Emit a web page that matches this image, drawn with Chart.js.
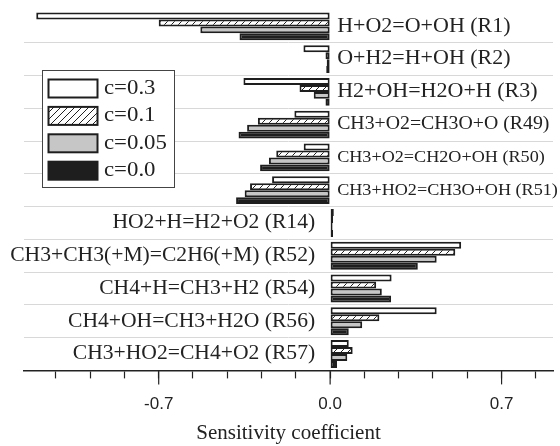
<!DOCTYPE html>
<html>
<head>
<meta charset="utf-8">
<script src="https://cdn.jsdelivr.net/npm/chart.js@4.4.1/dist/chart.umd.min.js"></script>
<style>
  html, body { margin: 0; padding: 0; background: #fff; }
  #wrap { width: 560px; height: 446px; }
</style>
</head>
<body>
<div id="wrap"><canvas id="chart1" width="560" height="446"></canvas></div>
<script>
// reactions, top to bottom
var reactions = [
    'H+O2=O+OH (R1)',
    'O+H2=H+OH (R2)',
    'H2+OH=H2O+H (R3)',
    'CH3+O2=CH3O+O (R49)',
    'CH3+O2=CH2O+OH (R50)',
    'CH3+HO2=CH3O+OH (R51)',
    'HO2+H=H2+O2 (R14)',
    'CH3+CH3(+M)=C2H6(+M) (R52)',
    'CH4+H=CH3+H2 (R54)',
    'CH4+OH=CH3+H2O (R56)',
    'CH3+HO2=CH4+O2 (R57)'
];

var seriesNames = ['c=0.3', 'c=0.1', 'c=0.05', 'c=0.0'];

var sensC03  = [-1.20, -0.109, -0.354, -0.146, -0.108, -0.237, 0.015, 0.535, 0.251, 0.435, 0.076];
var sensC01  = [-0.70, -0.019, -0.125, -0.295, -0.220, -0.327, 0.012, 0.511, 0.188, 0.201, 0.092];
var sensC005 = [-0.53, -0.014, -0.067, -0.339, -0.250, -0.349, 0.010, 0.435, 0.211, 0.131, 0.070];
var sensC00  = [-0.37, -0.016, -0.019, -0.374, -0.286, -0.384, 0.012, 0.358, 0.249, 0.076, 0.028];

var xTicks = [-1.12, -0.98, -0.84, -0.7, -0.56, -0.42, -0.28, -0.14, 0, 0.14, 0.28, 0.42, 0.56, 0.7, 0.84];
var xMajor = [-0.7, 0, 0.7];
var xTickLabels = ['-0.7', '0.0', '0.7'];

// look only
var labelSize = [20, 20, 20, 18, 16.5, 16.5, 20, 20, 20, 20, 20];
var serif = '"Liberation Serif", "Times New Roman", serif';
var stretch = 1.1;

function hatch() {
    var c = document.createElement('canvas');
    c.width = 7; c.height = 7;
    var g = c.getContext('2d');
    g.fillStyle = '#fff';
    g.fillRect(0, 0, 7, 7);
    g.strokeStyle = '#222';
    g.lineWidth = 1;
    g.beginPath();
    g.moveTo(-1, 8); g.lineTo(8, -1);
    g.moveTo(-1, 1); g.lineTo(1, -1);
    g.moveTo(6, 8); g.lineTo(8, 6);
    g.stroke();
    return g.createPattern(c, 'repeat');
}

var fills = ['#ffffff', hatch(), '#c6c6c6', '#1e1e1e'];
var allSeries = [sensC03, sensC01, sensC005, sensC00];

function majorIndex(v) {
    for (var i = 0; i < xMajor.length; i++) {
        if (Math.abs(v - xMajor[i]) < 0.001) return i;
    }
    return -1;
}

// labels next to the bars, long major ticks, legend box
var extras = {
    id: 'extras',
    afterDatasetsDraw: function(chart) {
        var ctx = chart.ctx;
        var xs = chart.scales.x, ys = chart.scales.y;
        var x0 = xs.getPixelForValue(0);
        ctx.save();
        ctx.fillStyle = '#222';
        ctx.textBaseline = 'middle';
        for (var i = 0; i < reactions.length; i++) {
            var y = ys.getPixelForValue(i);
            var hi = Math.max(sensC03[i], sensC01[i], sensC005[i], sensC00[i]);
            ctx.font = labelSize[i] + 'px ' + serif;
            var st = hi > 0 ? 1.08 : stretch;
            var w = ctx.measureText(reactions[i]).width * st;
            var x = hi > 0 ? x0 - 15 - w : x0 + 7;
            ctx.save();
            ctx.translate(x, y);
            ctx.scale(st, 1);
            ctx.textAlign = 'left';
            ctx.fillText(reactions[i], 0, 0);
            ctx.restore();
        }
        ctx.restore();
    },
    afterDraw: function(chart) {
        var ctx = chart.ctx;
        var xs = chart.scales.x;
        var yb = chart.chartArea.bottom;
        ctx.save();
        ctx.strokeStyle = '#222';
        ctx.lineWidth = 1.2;
        xMajor.forEach(function(v) {
            var px = xs.getPixelForValue(v);
            ctx.beginPath();
            ctx.moveTo(px, yb);
            ctx.lineTo(px, yb + 14);
            ctx.stroke();
        });
        var bx = 42.5, by = 70.5, bw = 132, bh = 117;
        ctx.fillStyle = '#fff';
        ctx.fillRect(bx, by, bw, bh);
        ctx.strokeStyle = '#444';
        ctx.lineWidth = 1;
        ctx.strokeRect(bx, by, bw, bh);
        for (var k = 0; k < seriesNames.length; k++) {
            var sy = 79.5 + k * 27.4;
            ctx.fillStyle = fills[k];
            ctx.fillRect(48.5, sy, 49, 18);
            ctx.strokeStyle = '#1e1e1e';
            ctx.lineWidth = 2;
            ctx.strokeRect(48.5, sy, 49, 18);
            ctx.save();
            ctx.fillStyle = '#222';
            ctx.font = '20px ' + serif;
            ctx.textBaseline = 'middle';
            ctx.translate(104, sy + 9);
            ctx.scale(1.14, 1);
            ctx.fillText(seriesNames[k], 0, 0);
            ctx.restore();
        }
        ctx.restore();
    }
};

new Chart('chart1', {
    type: 'bar',
    data: {
        labels: reactions,
        datasets: allSeries.map(function(vals, k) {
            return {
                label: seriesNames[k],
                data: vals,
                backgroundColor: fills[k],
                borderColor: '#1e1e1e',
                borderWidth: 2,
                borderSkipped: false,
                categoryPercentage: 0.85,
                barPercentage: 1.0
            };
        })
    },
    options: {
        indexAxis: 'y',
        responsive: false,
        animation: false,
        layout: { padding: { left: 24, right: 7, top: 10, bottom: 0 } },
        plugins: {
            legend: { display: false },
            tooltip: { enabled: false }
        },
        scales: {
            x: {
                type: 'linear',
                min: -1.25,
                max: 0.91,
                afterBuildTicks: function(scale) {
                    scale.ticks = xTicks.map(function(v) { return { value: v }; });
                },
                border: { display: true, color: '#222', width: 1.5 },
                grid: {
                    drawOnChartArea: false,
                    drawTicks: true,
                    tickLength: 8,
                    tickColor: '#222',
                    tickWidth: 1.2
                },
                ticks: {
                    autoSkip: false,
                    maxRotation: 0,
                    padding: 16,
                    color: '#222',
                    font: { family: '"Liberation Sans", Arial, sans-serif', size: 17 },
                    callback: function(v) {
                        var m = majorIndex(v);
                        return m >= 0 ? xTickLabels[m] : '';
                    }
                },
                title: {
                    display: true,
                    text: 'Sensitivity coefficient',
                    color: '#222',
                    font: { family: serif, size: 21 },
                    padding: { top: -10, bottom: 0 }
                }
            },
            y: {
                type: 'category',
                ticks: { display: false },
                border: { display: false },
                grid: {
                    offset: true,
                    drawTicks: false,
                    lineWidth: 1,
                    color: function(c) { return c.index === 0 ? 'rgba(0,0,0,0)' : '#d8d8d8'; }
                }
            }
        }
    },
    plugins: [extras]
});
</script>
</body>
</html>
